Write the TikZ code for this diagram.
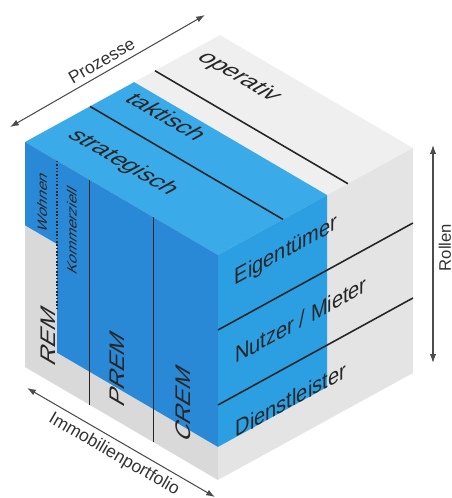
\documentclass[tikz,border=0pt]{standalone}
\usepackage{fontspec}
\setmainfont{Liberation Sans}
\usetikzlibrary{arrows.meta}
\definecolor{bluetop}{HTML}{3AAAE8}
\definecolor{blueright}{HTML}{2C9FE2}
\definecolor{blueleft}{HTML}{2A89D6}
\definecolor{graytop}{HTML}{EFEFEF}
\definecolor{grayright}{HTML}{E4E4E4}
\definecolor{grayleft}{HTML}{D9D9D9}
\def\blockdepth{0.56}
\def\basez{0.147}
\begin{document}
\begin{tikzpicture}[x=0.02cm,y=-0.02cm,
  cut/.style={line width=0.9pt,black!85},
  axis/.style={{Latex[length=5pt,width=3.5pt]}-{Latex[length=5pt,width=3.5pt]},black!70,line width=0.6pt},
  axislab/.style={text=black!80,font=\fontsize{10}{10}\selectfont,inner sep=3pt},
  facelab/.style={text=black!85,inner sep=0pt},
  toplab/.style={facelab,cm={1,-0.585,1.016,0.558,(0,0)},font=\fontsize{12}{12}\selectfont},
  rightlab/.style={facelab,cm={1,0.549,0,1.154,(0,0)},font=\fontsize{11.4}{12}\selectfont},
  leftlab/.style={facelab,cm={0,1.166,-1,0.585,(0,0)},font=\fontsize{12}{12}\selectfont},
  smalllab/.style={leftlab,font=\fontsize{7.6}{8}\selectfont}]
\useasboundingbox (0,0) rectangle (452,498);
\begin{scope}[shift={(25,367)},x={(3.86cm,-2.26cm)},y={(3.9cm,2.14cm)},z={(0cm,4.5cm)}]
% grauer Wuerfel
\fill[graytop] (0,0,1) -- (1,0,1) -- (1,1,1) -- (0,1,1) -- cycle;
\fill[grayright] (1,0,0) -- (1,1,0) -- (1,1,1) -- (1,0,1) -- cycle;
\fill[grayleft] (0,0,0) -- (1,0,0) -- (1,0,1) -- (0,0,1) -- cycle;
% blauer Block
\fill[bluetop] (0,0,1) -- (1,0,1) -- (1,\blockdepth,1) -- (0,\blockdepth,1) -- cycle;
\fill[blueright] (1,0,\basez) -- (1,\blockdepth,\basez) -- (1,\blockdepth,1) -- (1,0,1) -- cycle;
\fill[blueleft] (1/6,0,\basez) -- (1,0,\basez) -- (1,0,1) -- (0,0,1) -- (0,0,0.63) -- (1/6,0,0.63) -- cycle;
% Trennlinien
\draw[cut] (0,1/3,1) -- (1,1/3,1);
\draw[cut] (0,2/3,1) -- (1,2/3,1);
\draw[cut] (1,0,1/3) -- (1,1,1/3);
\draw[cut] (1,0,2/3) -- (1,1,2/3);
\draw[cut] (1/3,0,0) -- (1/3,0,1);
\draw[cut] (2/3,0,0) -- (2/3,0,1);
\draw[cut,densely dotted] (1/6,0,1) -- (1/6,0,1/3);
% Beschriftung
\node[toplab] (strat) at (0.34,0.165,1) {strategisch};
\node[toplab] (takt) at (0.24,0.49,1) {taktisch};
\node[toplab] (oper) at (0.24,0.86,1) {operativ};
\node[rightlab] (eig) at (1,0.349,0.85) {Eigentümer};
\node[rightlab] (nutz) at (1,0.426,0.51) {Nutzer / Mieter};
\node[rightlab] (dienst) at (1,0.374,0.18) {Dienstleister};
\node[leftlab] (rem) at (0.12,0,0.2) {REM};
\node[leftlab] (prem) at (0.48,0,0.235) {PREM};
\node[leftlab] (crem) at (0.82,0,0.25) {CREM};
\node[smalllab] (wohn) at (0.088,0,0.78) {Wohnen};
\node[smalllab] (komm) at (0.243,0,0.73) {Kommerziell};
\end{scope}
% Achsen
\coordinate (proz-a) at (10,127);
\coordinate (proz-b) at (205,15);
\coordinate (port-a) at (27,388);
\coordinate (port-b) at (215,497);
\coordinate (roll-a) at (433,363);
\coordinate (roll-b) at (433,145);
\draw[axis] (proz-a) -- (proz-b) node[axislab,midway,above,sloped] (proz) {Prozesse};
\draw[axis] (port-a) -- (port-b) node[axislab,midway,below,sloped] (port) {Immobilienportfolio};
\draw[axis] (roll-a) -- (roll-b) node[axislab,pos=0.53,below,sloped,font=\fontsize{9.5}{10}\selectfont] (roll) {Rollen};
\end{tikzpicture}
\end{document}
